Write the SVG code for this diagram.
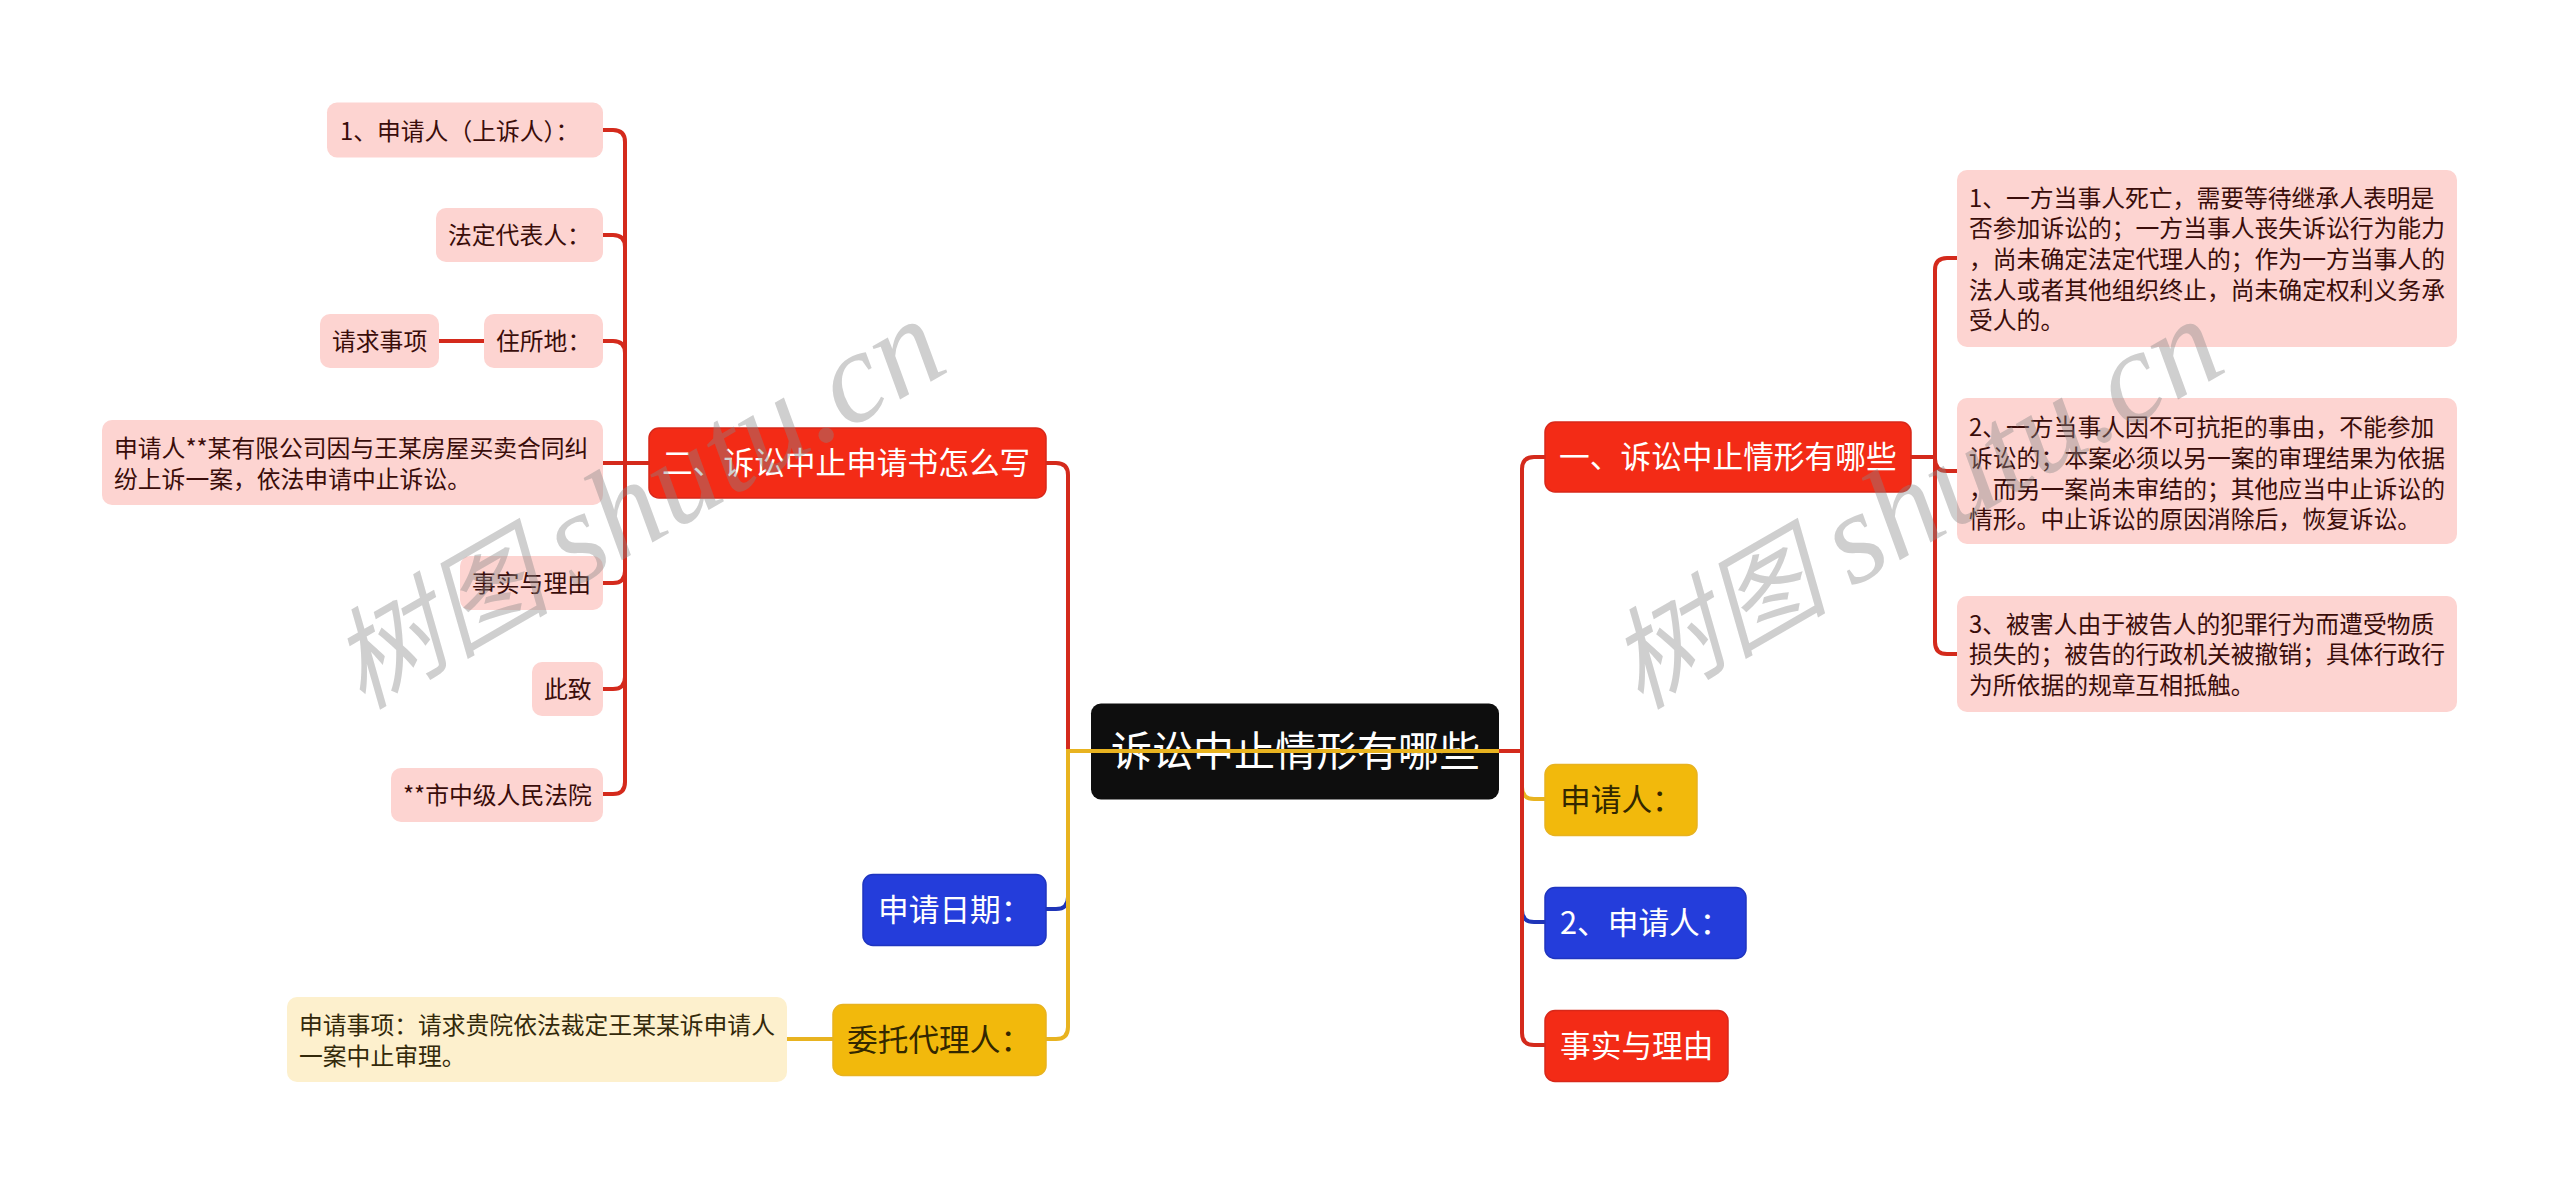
<svg xmlns="http://www.w3.org/2000/svg" width="2560" height="1183" viewBox="0 0 2560 1183">
<style>
text{font-family:"Noto Sans CJK SC","Noto Sans",sans-serif;white-space:pre}
.s{font-size:23.8px;fill:#3a0d0a}
.y{font-size:23.8px;fill:#33290a}
.m{font-size:30.7px}
.w{fill:#fff}
.k{fill:#332700}
.pink{fill:#fdd4d1}
.cream{fill:#fdf0cd}
.red{fill:#f32b16;stroke:#d8281a;stroke-width:1.5}
.blue{fill:#243ddb;stroke:#1f35c0;stroke-width:1.5}
.gold{fill:#f2b90c;stroke:#e8b320;stroke-width:1.5}
.c{fill:none;stroke-width:4}
.cr{stroke:#d42a1c}
.cy{stroke:#e8b320}
.cb{stroke:#1f35b8}
.wm{fill:#888;fill-opacity:.4;font-size:110px;font-style:italic}
.wl{font-family:"Liberation Serif",serif;font-size:130px}
</style>
<rect width="2560" height="1183" fill="#fff"/>
<g id="root"><rect x="1091" y="703.500" width="408" height="96" rx="10" fill="#0e0e0e"/><text x="1111" y="766" font-size="41" class="w">诉讼中止情形有哪些</text></g>
<g id="n-right1"><rect class="red" x="1545" y="422" width="366" height="70" rx="10"/><text class="m w" x="1559" y="468">一、诉讼中止情形有哪些</text></g>
<g id="n-r1a"><rect class="pink" x="1957" y="170" width="500" height="177" rx="10"/><text class="s" x="1969" y="207">1、一方当事人死亡，需要等待继承人表明是</text><text class="s" x="1969" y="237">否参加诉讼的；一方当事人丧失诉讼行为能力</text><text class="s" x="1969" y="268">，尚未确定法定代理人的；作为一方当事人的</text><text class="s" x="1969" y="298.500">法人或者其他组织终止，尚未确定权利义务承</text><text class="s" x="1969" y="329">受人的。</text></g>
<g id="n-r1b"><rect class="pink" x="1957" y="398" width="500" height="146" rx="10"/><text class="s" x="1969" y="436">2、一方当事人因不可抗拒的事由，不能参加</text><text class="s" x="1969" y="467">诉讼的；本案必须以另一案的审理结果为依据</text><text class="s" x="1969" y="497.500">，而另一案尚未审结的；其他应当中止诉讼的</text><text class="s" x="1969" y="528">情形。中止诉讼的原因消除后，恢复诉讼。</text></g>
<g id="n-r1c"><rect class="pink" x="1957" y="596" width="500" height="116" rx="10"/><text class="s" x="1969" y="633">3、被害人由于被告人的犯罪行为而遭受物质</text><text class="s" x="1969" y="663">损失的；被告的行政机关被撤销；具体行政行</text><text class="s" x="1969" y="694">为所依据的规章互相抵触。</text></g>
<g id="n-right2"><rect class="gold" x="1545" y="764.500" width="152" height="71" rx="10"/><text class="m k" x="1560" y="810.500">申请人：</text></g>
<g id="n-right3"><rect class="blue" x="1545" y="887.500" width="201" height="71" rx="10"/><text class="m w" x="1560" y="933.500">2、申请人：</text></g>
<g id="n-right4"><rect class="red" x="1545" y="1010.500" width="183" height="71" rx="10"/><text class="m w" x="1560" y="1056.500">事实与理由</text></g>
<g id="n-left1"><rect class="red" x="649" y="428" width="397" height="70" rx="10"/><text class="m w" x="662" y="474">二、诉讼中止申请书怎么写</text></g>
<g id="n-l1a"><rect class="pink" x="327" y="102.500" width="276" height="55" rx="10"/><text class="s" x="340" y="139.500">1、申请人（上诉人）：</text></g>
<g id="n-l1b"><rect class="pink" x="436" y="208" width="167" height="54" rx="10"/><text class="s" x="448" y="243.500">法定代表人：</text></g>
<g id="n-l1c"><rect class="pink" x="484" y="314" width="119" height="54" rx="10"/><text class="s" x="496" y="349.500">住所地：</text></g>
<g id="n-l1c1"><rect class="pink" x="320" y="314" width="119" height="54" rx="10"/><text class="s" x="332" y="349.500">请求事项</text></g>
<g id="n-l1d"><rect class="pink" x="102" y="420" width="501" height="85" rx="10"/><text class="s" x="114" y="456.500">申请人**某有限公司因与王某房屋买卖合同纠</text><text class="s" x="114" y="487.500">纷上诉一案，依法申请中止诉讼。</text></g>
<g id="n-l1e"><rect class="pink" x="460" y="556" width="143" height="54" rx="10"/><text class="s" x="472" y="591.500">事实与理由</text></g>
<g id="n-l1f"><rect class="pink" x="532" y="662" width="71" height="54" rx="10"/><text class="s" x="544" y="697.500">此致</text></g>
<g id="n-l1g"><rect class="pink" x="391" y="768" width="212" height="54" rx="10"/><text class="s" x="403" y="804">**市中级人民法院</text></g>
<g id="n-left2"><rect class="blue" x="863" y="874.500" width="183" height="71" rx="10"/><text class="m w" x="878" y="920.500">申请日期：</text></g>
<g id="n-left3"><rect class="gold" x="833" y="1004.500" width="213" height="71" rx="10"/><text class="m k" x="847" y="1050.500">委托代理人：</text></g>
<g id="n-l3a"><rect class="cream" x="287" y="997" width="500" height="85" rx="10"/><text class="y" x="299" y="1033.500">申请事项：请求贵院依法裁定王某某诉申请人</text><text class="y" x="299" y="1064.500">一案中止审理。</text></g>
<g id="connectors">
<path class="c cy" d="M1522 751V787Q1522 799 1534 799H1545"/>
<path class="c cb" d="M1522 751V910Q1522 922 1534 922H1545"/>
<path class="c cr" d="M1499 751H1522M1522 751V469Q1522 457 1534 457H1545M1522 751V1033Q1522 1045 1534 1045H1545"/>
<path class="c cr" d="M1911 457H1935M1935 457V270Q1935 258 1947 258H1957M1935 457V459Q1935 471 1947 471H1957M1935 457V642Q1935 654 1947 654H1957"/>
<path class="c cr" d="M649 463H603M625 463V142Q625 130 613 130H603M625 247Q625 235 613 235H603M625 353Q625 341 613 341H603M625 463V782Q625 794 613 794H603M625 571Q625 583 613 583H603M625 677Q625 689 613 689H603"/>
<path class="c cr" d="M484 341H439"/>
<path class="c cr" d="M1046 463H1056Q1068 463 1068 475V751"/>
<path class="c cb" d="M1068 891V897Q1068 909 1056 909H1046"/>
<path class="c cy" d="M1499 751H1068V1027Q1068 1039 1056 1039H1046"/>
<path class="c cy" d="M833 1039H787"/>
</g>
<g id="watermarks">
<text class="wm" transform="translate(362 710) rotate(-30)">树图 <tspan class="wl">shutu.cn</tspan></text>
<text class="wm" transform="translate(1640 710) rotate(-30)">树图 <tspan class="wl">shutu.cn</tspan></text>
</g>
</svg>
